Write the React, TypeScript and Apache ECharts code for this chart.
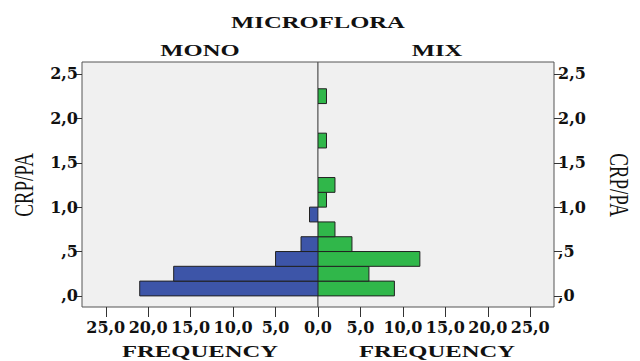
import React, { useEffect, useRef } from "react";
import * as echarts from "echarts";

// Histogram bins of CRP/PA (lower edges), width 1/6
const binStarts = [0, 0.1667, 0.3333, 0.5, 0.6667, 0.8333, 1.0, 1.1667, 1.3333, 1.5, 1.6667, 1.8333, 2.0, 2.1667, 2.3333];
const binWidth = 0.1667;
// Frequencies per bin
const monoCounts = [21, 17, 5, 2, 0, 1, 0, 0, 0, 0, 0, 0, 0, 0, 0];
const mixCounts = [9, 6, 12, 4, 2, 0, 1, 2, 0, 0, 1, 0, 0, 1, 0];
// Tick values
const freqTicksLeft = [5, 10, 15, 20, 25];
const freqTicksRight = [0, 5, 10, 15, 20, 25];
const crpTicks = [0, 0.5, 1.0, 1.5, 2.0, 2.5];

const BLUE = "#3d55a8";
const GREEN = "#30b74a";
const TICK_FONT = "DejaVu Serif";
const TITLE_FONT = "Liberation Serif";

function toData(counts: number[]) {
  const out: number[][] = [];
  counts.forEach((c, i) => {
    if (c > 0) out.push([c, binStarts[i], binStarts[i] + binWidth]);
  });
  return out;
}

function makeRender(color: string) {
  return (params: any, api: any) => {
    const v = api.value(0);
    const lo = api.value(1);
    const hi = api.value(2);
    const p0 = api.coord([0, lo]);
    const p1 = api.coord([v, hi]);
    return {
      type: "rect",
      shape: {
        x: Math.min(p0[0], p1[0]),
        y: Math.min(p0[1], p1[1]),
        width: Math.abs(p1[0] - p0[0]),
        height: Math.abs(p1[1] - p0[1]),
      },
      style: { fill: color, stroke: "#222", lineWidth: 1 },
    };
  };
}

const fmtX = (v: number) => v.toFixed(1).replace(".", ",");
const fmtY = (v: number) => {
  const s = v.toFixed(1).replace(".", ",");
  return s.startsWith("0,") ? s.slice(1) : s;
};

export default function App() {
  const ref = useRef<HTMLDivElement>(null);
  useEffect(() => {
    document.body.style.margin = "0";
    const chart = echarts.init(ref.current!, null, { renderer: "svg" });
    const tickLabel = {
      fontFamily: TICK_FONT,
      fontWeight: "bold" as const,
      fontSize: 16,
      color: "#111",
    };
    const gridCommon = {
      top: 62,
      height: 245,
      width: 236,
      show: true,
      backgroundColor: "#f0f0f0",
      borderColor: "#555",
      borderWidth: 1,
    };
    const xCommon = (ticks: number[], inverse: boolean, gi: number) => ({
      type: "value",
      gridIndex: gi,
      min: 0,
      max: 27.8,
      inverse,
      axisLine: { show: false, onZero: false },
      splitLine: { show: false },
      axisTick: { show: true, length: 10, customValues: ticks, lineStyle: { color: "#333" } },
      axisLabel: { ...tickLabel, customValues: ticks, formatter: fmtX, margin: 12 },
    });
    const yCommon = (pos: string, gi: number) => ({
      type: "value",
      gridIndex: gi,
      position: pos,
      min: -0.125,
      max: 2.635,
      axisLine: { show: false, onZero: false },
      splitLine: { show: false },
      axisTick: { show: true, length: 8, customValues: crpTicks, lineStyle: { color: "#333" } },
      axisLabel: { ...tickLabel, customValues: crpTicks, formatter: fmtY, margin: 4 },
    });
    const titleText = (text: string, x: number, y: number) => ({
      type: "text",
      x,
      y,
      scaleX: 1.45,
      style: {
        text,
        fontFamily: TITLE_FONT,
        fontWeight: "bold",
        fontSize: 17,
        fill: "#111",
        textAlign: "center",
        textVerticalAlign: "middle",
      },
    });
    const sideText = (x: number, rot: number) => ({
      type: "text",
      x,
      y: 185,
      rotation: rot,
      scaleY: 1.4,
      style: {
        text: "CRP/PA",
        fontFamily: TITLE_FONT,
        fontSize: 19,
        fill: "#111",
        textAlign: "center",
        textVerticalAlign: "middle",
      },
    });
    chart.setOption({
      animation: false,
      grid: [
        { ...gridCommon, left: 82 },
        { ...gridCommon, left: 318 },
      ],
      xAxis: [xCommon(freqTicksLeft, true, 0), xCommon(freqTicksRight, false, 1)],
      yAxis: [yCommon("left", 0), yCommon("right", 1)],
      series: [
        {
          type: "custom",
          name: "MONO",
          xAxisIndex: 0,
          yAxisIndex: 0,
          renderItem: makeRender(BLUE),
          encode: { x: 0, y: [1, 2] },
          data: toData(monoCounts),
          clip: true,
        },
        {
          type: "custom",
          name: "MIX",
          xAxisIndex: 1,
          yAxisIndex: 1,
          renderItem: makeRender(GREEN),
          encode: { x: 0, y: [1, 2] },
          data: toData(mixCounts),
          clip: true,
        },
      ],
      graphic: [
        titleText("MICROFLORA", 318, 22),
        titleText("MONO", 200, 50),
        titleText("MIX", 437, 50),
        titleText("FREQUENCY", 200, 351),
        titleText("FREQUENCY", 437, 351),
        sideText(24, Math.PI / 2),
        sideText(619, -Math.PI / 2),
      ],
    });
    return () => chart.dispose();
  }, []);
  return (
    <div
      ref={ref}
      style={{ position: "fixed", left: 0, top: 0, width: 640, height: 361, background: "#fff" }}
    />
  );
}
